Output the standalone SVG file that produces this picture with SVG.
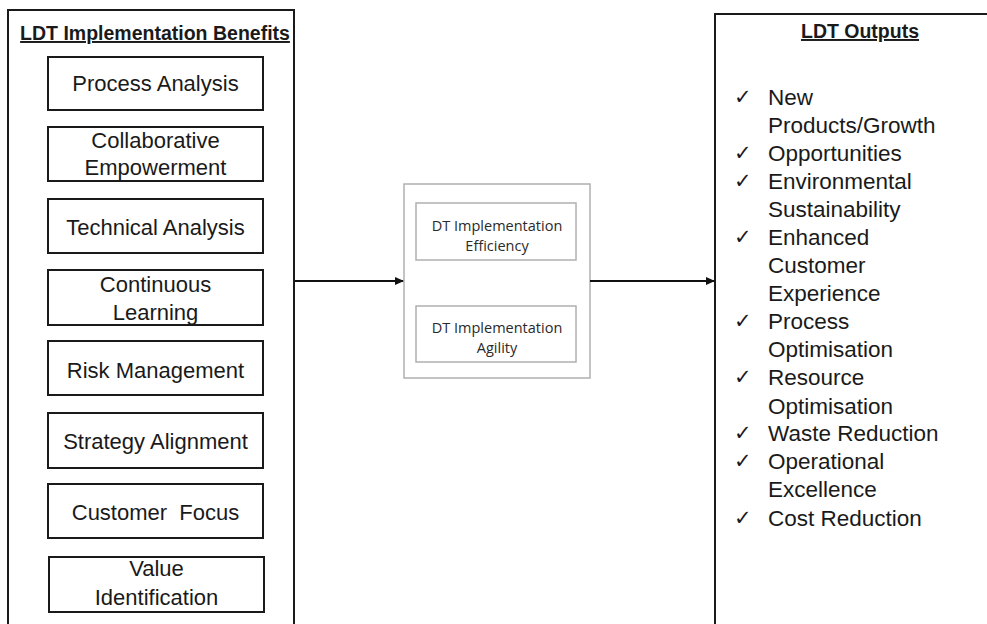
<svg xmlns="http://www.w3.org/2000/svg" width="987" height="624" viewBox="0 0 987 624">
<defs>
<style>
.outer{fill:none;stroke:#1a1a1a;stroke-width:2}
.box{fill:#fff;stroke:#1a1a1a;stroke-width:2}
.mid{fill:#fff;stroke:#b0b0b0;stroke-width:1.5}
.t{font-family:"Liberation Sans",Arial,sans-serif;font-size:22px;fill:#1a1a1a;text-anchor:middle}
.h{font-family:"Liberation Sans",Arial,sans-serif;font-size:19.5px;font-weight:bold;fill:#1a1a1a;text-anchor:middle;text-decoration:underline}
.s{font-family:"Open Sans","Liberation Sans",sans-serif;font-size:14.5px;fill:#2a2a2a;text-anchor:middle}
.l{font-family:"Liberation Sans",Arial,sans-serif;font-size:22.5px;fill:#1a1a1a}
.c{font-family:"DejaVu Sans",sans-serif;font-size:21px;fill:#1a1a1a}
.conn{stroke:#111;stroke-width:2;fill:none}
</style>
<marker id="arr" markerWidth="9" markerHeight="9" refX="8" refY="4.5" orient="auto" markerUnits="userSpaceOnUse">
<path d="M0,0.5 L9,4.5 L0,8.5 Z" fill="#111"/>
</marker>
</defs>
<rect width="987" height="624" fill="#fff"/>

<g id="benefits">
<path class="outer" d="M8,630 V10 H294 V630"/>
<text class="h" x="155" y="40">LDT Implementation Benefits</text>
</g>
<g id="process-analysis"><rect class="box" x="48" y="57" width="215" height="53"/><text class="t" x="155.5" y="91">Process Analysis</text></g>
<g id="collaborative-empowerment"><rect class="box" x="48" y="127" width="215" height="54"/><text class="t" x="155.5" y="148">Collaborative</text><text class="t" x="155.5" y="175">Empowerment</text></g>
<g id="technical-analysis"><rect class="box" x="48" y="199" width="215" height="54"/><text class="t" x="155.5" y="235">Technical Analysis</text></g>
<g id="continuous-learning"><rect class="box" x="48" y="270" width="215" height="55"/><text class="t" x="155.5" y="292">Continuous</text><text class="t" x="155.5" y="320">Learning</text></g>
<g id="risk-management"><rect class="box" x="48" y="341" width="215" height="54"/><text class="t" x="155.5" y="378">Risk Management</text></g>
<g id="strategy-alignment"><rect class="box" x="48" y="413" width="215" height="55"/><text class="t" x="155.5" y="449">Strategy Alignment</text></g>
<g id="customer-focus"><rect class="box" x="48" y="484" width="215" height="54"/><text class="t" x="155.5" y="520" xml:space="preserve">Customer  Focus</text></g>
<g id="value-identification"><rect class="box" x="49" y="557" width="215" height="55"/><text class="t" x="156.5" y="576">Value</text><text class="t" x="156.5" y="605">Identification</text></g>

<g id="dt-implementation">
<rect class="mid" x="404" y="184" width="186" height="194"/>
</g>
<g id="dt-efficiency"><rect class="mid" x="416" y="203" width="160" height="57"/><text class="s" x="497" y="231">DT Implementation</text><text class="s" x="497" y="251">Efficiency</text></g>
<g id="dt-agility"><rect class="mid" x="416" y="306" width="160" height="56"/><text class="s" x="497" y="333">DT Implementation</text><text class="s" x="497" y="353">Agility</text></g>

<g id="outputs">
<path class="outer" d="M715,630 V14 H990"/>
<text class="h" x="860" y="38">LDT Outputs</text>
<g class="c">
<text x="734" y="104">✓</text><text x="734" y="160">✓</text><text x="734" y="188">✓</text><text x="734" y="244">✓</text><text x="734" y="328">✓</text><text x="734" y="384">✓</text><text x="734" y="440">✓</text><text x="734" y="468">✓</text><text x="734" y="525">✓</text>
</g>
<g class="l">
<text x="768" y="105">New</text>
<text x="768" y="133">Products/Growth</text>
<text x="768" y="161">Opportunities</text>
<text x="768" y="189">Environmental</text>
<text x="768" y="217">Sustainability</text>
<text x="768" y="245">Enhanced</text>
<text x="768" y="273">Customer</text>
<text x="768" y="301">Experience</text>
<text x="768" y="329">Process</text>
<text x="768" y="357">Optimisation</text>
<text x="768" y="385">Resource</text>
<text x="768" y="414">Optimisation</text>
<text x="768" y="441">Waste Reduction</text>
<text x="768" y="469">Operational</text>
<text x="768" y="497">Excellence</text>
<text x="768" y="526">Cost Reduction</text>
</g>
</g>

<g id="connectors">
<line class="conn" x1="295" y1="281" x2="403" y2="281" marker-end="url(#arr)"/>
<line class="conn" x1="590" y1="281" x2="714" y2="281" marker-end="url(#arr)"/>
</g>
</svg>
